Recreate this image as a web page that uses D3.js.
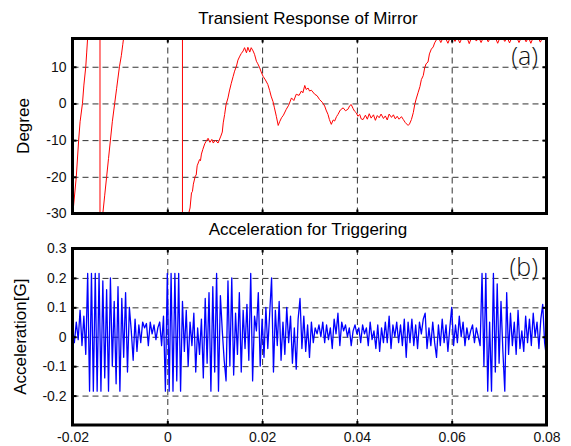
<!DOCTYPE html>
<html>
<head>
<meta charset="utf-8">
<script src="https://cdn.jsdelivr.net/npm/d3@7"></script>
<style>
body{margin:0;background:#fff}
svg{font-family:"Liberation Sans",Arial,sans-serif}
.grid line{stroke:#333;stroke-dasharray:6,4}
.grid .domain{display:none}
.ticks .domain{display:none}
.ticks line{stroke:#000;stroke-width:2}
.ticks text{font-size:14px;fill:#111}
</style>
</head>
<body>
<svg id="chart" width="571" height="446"></svg>
<script>
// mirror angle [time (s), degree] (values beyond the axes get clipped)
var mirrorSamples = [
	[-0.0200,-31],[-0.0192,-20],[-0.0187,-10],[-0.0184,-5],[-0.0179,0],[-0.0176,5],[-0.0172,10],[-0.0170,14],[-0.0168,18],[-0.0160,40],[-0.0142,45],[-0.0142,-45],
	[-0.0137,-36],[-0.0136,-30],[-0.0132,-25],[-0.0128,-20],[-0.0124,-15],[-0.0120,-10],[-0.0116,-5],[-0.0111,0],[-0.0107,4],[-0.0101,10],[-0.0097,13],[-0.0094,16],[-0.0092,18],[-0.0084,35],[0.0032,45],[0.0032,-45],[0.0042,-38],
	[0.0045,-30],[0.0048,-28.5],[0.0051,-24.4],[0.0053,-24],[0.0055,-22],[0.0059,-19.8],[0.0061,-19.5],[0.0063,-17],[0.0068,-15.3],[0.0070,-15.6],[0.0072,-13.8],[0.0075,-12.5],[0.0079,-11],[0.0082,-10.3],
	[0.0086,-9.5],[0.0090,-10.6],[0.0094,-9.8],[0.0097,-10.8],[0.0101,-10],[0.0107,-10.8],[0.0113,-8.9],[0.0116,-7.8],[0.0118,-5.3],[0.0121,-3],[0.0124,-0.3],
	[0.0128,1.5],[0.0131,3.4],[0.0135,5.5],[0.0139,7.4],[0.0142,8.8],[0.0146,10.2],[0.0149,11.8],[0.0153,12.9],[0.0156,13.6],[0.0160,14.3],
	[0.0163,15.2],[0.0167,13.8],[0.0170,15.3],[0.0174,14],[0.0177,15.2],[0.0181,14.3],[0.0184,13.4],[0.0188,11.5],[0.0191,10.8],[0.0195,9.7],
	[0.0198,8.6],[0.0202,7.4],[0.0207,6.4],[0.0212,5.2],[0.0216,3.5],[0.0219,2],[0.0223,0.5],[0.0226,-1.2],[0.0230,-3.5],[0.0234,-6],
	[0.0237,-5],[0.0241,-3.9],[0.0245,-3.2],[0.0251,-1.6],[0.0256,-0.5],[0.0262,1.5],[0.0267,0.8],[0.0272,2.5],[0.0278,2.2],[0.0283,3.4],
	[0.0286,2.9],[0.0290,4.9],[0.0293,3.8],[0.0297,4.2],[0.0300,3.4],[0.0304,3.6],[0.0311,2.5],[0.0316,2.1],[0.0321,1.1],[0.0327,0.3],
	[0.0332,-0.7],[0.0335,-1.8],[0.0339,-3],[0.0342,-4.4],[0.0346,-5.7],[0.0350,-4.5],[0.0353,-4.8],[0.0357,-3.6],[0.0360,-3],[0.0365,-1.8],
	[0.0371,-1.2],[0.0376,-2],[0.0381,-1.6],[0.0385,-0.6],[0.0388,-0.3],[0.0392,-1.4],[0.0395,-2.1],[0.0399,-2.6],[0.0402,-3.5],[0.0406,-3],
	[0.0409,-4.2],[0.0413,-4.4],[0.0418,-3.2],[0.0422,-4.3],[0.0426,-2.8],[0.0430,-4],[0.0435,-3.1],[0.0439,-4.6],[0.0443,-3.3],[0.0447,-3.9],
	[0.0451,-2.9],[0.0456,-4.1],[0.0460,-3.4],[0.0464,-4.5],[0.0468,-2.9],[0.0473,-3.8],[0.0477,-3.1],[0.0481,-4.2],[0.0485,-3.5],[0.0489,-4.3],
	[0.0494,-3.6],[0.0498,-4.4],[0.0502,-5.2],[0.0508,-6],[0.0511,-5.6],[0.0515,-4.4],[0.0519,-2.5],[0.0522,-0.3],[0.0525,1.2],[0.0529,2.9],
	[0.0533,4.6],[0.0536,6.5],[0.0540,7.6],[0.0543,9.7],[0.0546,10.8],[0.0550,11.3],[0.0553,13.5],[0.0557,14.8],[0.0561,15.4],[0.0564,16.5],[0.0568,17.4],
	[0.0572,18],[0.0577,16.6],[0.0582,18],[0.0587,17.8],[0.0592,16.4],[0.0597,18],[0.0602,18],[0.0607,16.9],[0.0612,18],[0.0617,16.5],
	[0.0622,18],[0.0627,17.6],[0.0632,18],[0.0637,16.3],[0.0642,18],[0.0647,18],[0.0652,17],[0.0657,18],[0.0662,16.6],[0.0667,18],
	[0.0672,18],[0.0677,16.8],[0.0682,18],[0.0687,17.4],[0.0692,18],[0.0697,16.4],[0.0702,18],[0.0707,18],[0.0712,16.9],[0.0717,18],
	[0.0722,16.5],[0.0727,18],[0.0732,17.7],[0.0737,18],[0.0742,16.6],[0.0747,18],[0.0752,18],[0.0757,16.8],[0.0762,18],[0.0767,16.4],
	[0.0772,18],[0.0777,17.3],[0.0782,18],[0.0787,16.7],[0.0792,18],[0.0797,18],[0.0800,16.9]
]

// acceleration, sampled every accelStep seconds from accelStart
var accelStart = -0.02
var accelStep = 0.0004
var accelG = [
	0.03,-0.02,0.05,-0.01,0.09,-0.03,0.07,-0.06,0.215,-0.185,
	0.215,-0.185,0.215,-0.185,0.215,-0.185,0.19,-0.14,0.16,-0.185,
	0.2,-0.1,0.12,-0.16,0.17,-0.185,0.13,-0.07,0.15,-0.12,
	0.1,0.02,-0.08,0.06,-0.05,0.04,-0.02,0.05,0.03,0.045,
	-0.03,0.05,0.01,0.04,-0.01,0.03,0.05,-0.03,0.07,-0.185,
	0.215,-0.185,0.215,-0.185,0.215,-0.15,0.215,-0.185,0.12,-0.05,
	0.09,-0.1,0.05,-0.03,0.08,-0.12,0.03,-0.06,0.06,-0.14,
	0.13,-0.09,0.15,-0.185,0.17,-0.12,0.215,-0.185,0.14,0.02,
	-0.08,-0.15,0.19,-0.1,0.2,-0.13,0.08,-0.06,0.15,-0.12,
	0.09,-0.04,0.11,-0.08,0.215,-0.15,0.07,0.02,0.15,-0.1,
	0.06,-0.07,0.1,-0.04,0.08,0.2,-0.12,0.09,-0.03,0.12,
	-0.08,0.05,-0.06,0.1,-0.02,0.07,-0.09,0.03,-0.11,0.06,
	0.13,-0.04,0.07,-0.05,0.04,-0.07,0.05,-0.02,0.03,0.01,
	0.04,0,0.05,-0.02,0.04,-0.01,0.03,-0.04,0.06,0.01,
	0.08,-0.03,0.05,0.02,0.04,0,0.03,-0.03,0.02,0.04,
	0.01,0.03,-0.02,0.04,0.01,0.03,-0.03,0.05,-0.01,0.02,
	-0.04,0.04,-0.05,0.03,-0.02,0.05,-0.02,0.07,-0.04,0.04,
	0,0.05,-0.02,0.04,-0.03,0.06,-0.07,0.05,-0.02,0.06,
	-0.03,0.04,-0.04,0.05,0.01,0.06,0.08,-0.04,0.03,-0.03,
	0.05,-0.02,-0.07,0.04,-0.03,0.06,-0.02,0.04,-0.05,0.03,
	0.1,-0.03,0.04,-0.02,0.07,0,0.05,-0.03,0.03,-0.01,
	0.02,0.04,-0.02,0.03,0,-0.03,0.215,-0.1,0.215,-0.185,
	0.05,-0.185,0.215,-0.12,0.18,-0.09,0.12,-0.05,-0.185,0.15,
	-0.06,0.08,-0.03,0.05,-0.06,0.09,-0.04,0.02,-0.05,0.07,
	-0.02,0.06,-0.03,0.08,0,0.05,-0.04,0.06,0.11,-0.02,
	-0.07
]

var xTicks = [-0.02, 0, 0.02, 0.04, 0.06, 0.08]
var xTickLabels = ["-0.02", "0", "0.02", "0.04", "0.06", "0.08"]
var degTicks = [10, 0, -10, -20, -30]
var degTickLabels = ["10", "0", "-10", "-20", "-30"]
var accTicks = [0.3, 0.2, 0.1, 0, -0.1, -0.2]
var accTickLabels = ["0.3", "0.2", "0.1", "0", "-0.1", "-0.2"]

var svg = d3.select("#chart")
var left = 72.5, right = 546.5

var xScale = d3.scaleLinear().domain([-0.02, 0.08]).range([left, right])
var xInner = xTicks.slice(1, -1)

function drawPanel(p){
	var yScale = d3.scaleLinear().domain(p.yDomain).range([p.bottom, p.top])
	var yInner = p.ticks.filter(d => d > p.yDomain[0] && d < p.yDomain[1])
	var g = svg.append("g")

	// dashed grid
	g.append("g").attr("class", "grid")
		.attr("transform", "translate(0," + p.bottom + ")")
		.call(d3.axisBottom(xScale).tickValues(xInner).tickSize(-(p.bottom - p.top)).tickFormat(""))
	g.append("g").attr("class", "grid")
		.attr("transform", "translate(" + left + ",0)")
		.call(d3.axisLeft(yScale).tickValues(yInner).tickSize(-(right - left)).tickFormat(""))

	// the signal, clipped to the box
	g.append("clipPath").attr("id", p.id + "-clip")
		.append("rect")
		.attr("x", left).attr("y", p.top)
		.attr("width", right - left).attr("height", p.bottom - p.top)
	g.append("path")
		.datum(p.data)
		.attr("clip-path", "url(#" + p.id + "-clip)")
		.attr("fill", "none")
		.attr("stroke", p.color)
		.attr("stroke-width", p.lineWidth)
		.attr("stroke-linejoin", "round")
		.attr("d", d3.line().x(d => xScale(d[0])).y(d => yScale(d[1])))

	// inward ticks on all four sides
	g.append("g").attr("class", "ticks")
		.attr("transform", "translate(" + left + ",0)")
		.call(d3.axisLeft(yScale).tickValues(p.ticks)
			.tickFormat((d, i) => p.tickLabels[i]).tickSize(-4).tickPadding(6))
		.selectAll("line").filter(d => yInner.indexOf(d) < 0).remove()
	g.append("g").attr("class", "ticks")
		.attr("transform", "translate(" + right + ",0)")
		.call(d3.axisRight(yScale).tickValues(yInner).tickSize(-4).tickFormat(""))
	g.append("g").attr("class", "ticks")
		.attr("transform", "translate(0," + p.top + ")")
		.call(d3.axisTop(xScale).tickValues(xInner).tickSize(-4).tickFormat(""))
	var xa = g.append("g").attr("class", "ticks")
		.attr("transform", "translate(0," + p.bottom + ")")
		.call(d3.axisBottom(xScale).tickValues(p.showX ? xTicks : xInner).tickSize(-4).tickPadding(7)
			.tickFormat((d, i) => p.showX ? xTickLabels[i] : ""))
	xa.selectAll("line").filter(d => xInner.indexOf(d) < 0).remove()

	// frame
	g.append("rect")
		.attr("x", left).attr("y", p.top)
		.attr("width", right - left).attr("height", p.bottom - p.top)
		.attr("fill", "none").attr("stroke", "#000").attr("stroke-width", 3)

	g.append("text")
		.attr("x", 308).attr("y", p.titleY)
		.attr("text-anchor", "middle")
		.style("font-size", "17px")
		.text(p.title)
	g.append("text")
		.attr("transform", "translate(" + p.labelX + "," + ((p.top + p.bottom) / 2) + ") rotate(-90)")
		.attr("text-anchor", "middle")
		.style("font-size", "17px")
		.text(p.yLabel)
	g.append("text")
		.attr("x", 538).attr("y", p.tagY)
		.attr("text-anchor", "end")
		.style("font-family", "'Open Sans',sans-serif")
		.style("font-weight", 300)
		.style("font-size", "25px")
		.style("fill", "#111")
		.text(p.tag)
}

drawPanel({
	id: "mirror", top: 38.5, bottom: 213.5, yDomain: [-30, 17.7],
	ticks: degTicks, tickLabels: degTickLabels, showX: false,
	data: mirrorSamples, color: "#ff0000", lineWidth: 1,
	title: "Transient Response of Mirror", titleY: 24,
	yLabel: "Degree", labelX: 29, tag: "(a)", tagY: 65
})

drawPanel({
	id: "accel", top: 248.5, bottom: 425, yDomain: [-0.3, 0.3],
	ticks: accTicks, tickLabels: accTickLabels, showX: true,
	data: accelG.map((v, i) => [accelStart + i * accelStep, v]), color: "#0000ff", lineWidth: 1.3,
	title: "Acceleration for Triggering", titleY: 235,
	yLabel: "Acceleration[G]", labelX: 26, tag: "(b)", tagY: 276
})
</script>
</body>
</html>
